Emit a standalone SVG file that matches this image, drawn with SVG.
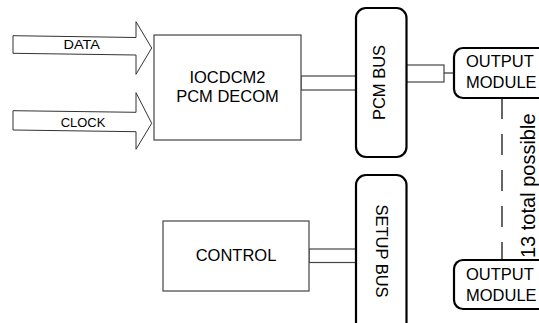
<svg xmlns="http://www.w3.org/2000/svg" width="539" height="323" viewBox="0 0 539 323">
<style>
.bg{fill:#fff}
.box{fill:#fff;stroke:#444;stroke-width:1.2}
.bus{fill:#fff;stroke:#000;stroke-width:2.2}
.arrow{fill:#fff;stroke:#333;stroke-width:1}
.t{font-family:"Liberation Sans",Arial,sans-serif;fill:#000}
.big{font-size:16.5px}
.small{font-size:12px}
</style>
<rect class="bg" x="0" y="0" width="539" height="323"/>
<g id="connectors">
<rect class="box" x="301" y="76" width="56" height="14"/>
<rect class="box" x="406.5" y="65" width="37.5" height="17"/>
<line x1="444" y1="73" x2="455" y2="73" stroke="#333" stroke-width="1.2"/>
<rect class="box" x="309" y="249" width="47" height="13.5"/>
<line x1="502" y1="98" x2="502" y2="260" stroke="#000" stroke-width="1.2" stroke-dasharray="21 15"/>
</g>
<g id="data">
<polygon class="arrow" points="13,35.7 136,37.5 136,21.7 151.7,48 136,74.3 136,55 13,53.3"/>
<text class="t small" x="81.7" y="49.3" text-anchor="middle" textLength="36.5" lengthAdjust="spacingAndGlyphs">DATA</text>
</g>
<g id="clock">
<polygon class="arrow" points="13,110.7 136,112.3 136,92.7 151.7,123.3 136,149.3 136,131.7 13,130"/>
<text class="t small" x="83" y="126.5" text-anchor="middle" textLength="44.5" lengthAdjust="spacingAndGlyphs">CLOCK</text>
</g>
<g id="decom">
<rect class="box" x="154" y="35" width="147" height="105"/>
<text class="t big" x="227.5" y="83" text-anchor="middle">IOCDCM2</text>
<text class="t big" x="227.5" y="102" text-anchor="middle">PCM DECOM</text>
</g>
<g id="pcmbus">
<rect class="bus" x="356" y="8" width="50.5" height="149" rx="10"/>
<text class="t big" transform="translate(379,82.5) rotate(-90)" text-anchor="middle" dy="0.36em">PCM BUS</text>
</g>
<g id="out1">
<rect class="bus" x="454" y="48" width="100" height="50" rx="9"/>
<text class="t big" x="466" y="66.7">OUTPUT</text>
<text class="t big" x="466" y="88.3">MODULE</text>
</g>
<g id="out2">
<rect class="bus" x="454" y="260" width="100" height="49" rx="9"/>
<text class="t big" x="466" y="280">OUTPUT</text>
<text class="t big" x="466" y="300.5">MODULE</text>
</g>
<g id="label13">
<text class="t" font-size="20" transform="translate(535,258) rotate(-90)">13 total possible</text>
</g>
<g id="control">
<rect class="box" x="163" y="221" width="146" height="70"/>
<text class="t big" x="236" y="261" text-anchor="middle">CONTROL</text>
</g>
<g id="setupbus">
<rect class="bus" x="356" y="175" width="50.5" height="170" rx="10"/>
<text class="t big" transform="translate(382,251) rotate(90)" text-anchor="middle" dy="0.36em">SETUP BUS</text>
</g>
</svg>
